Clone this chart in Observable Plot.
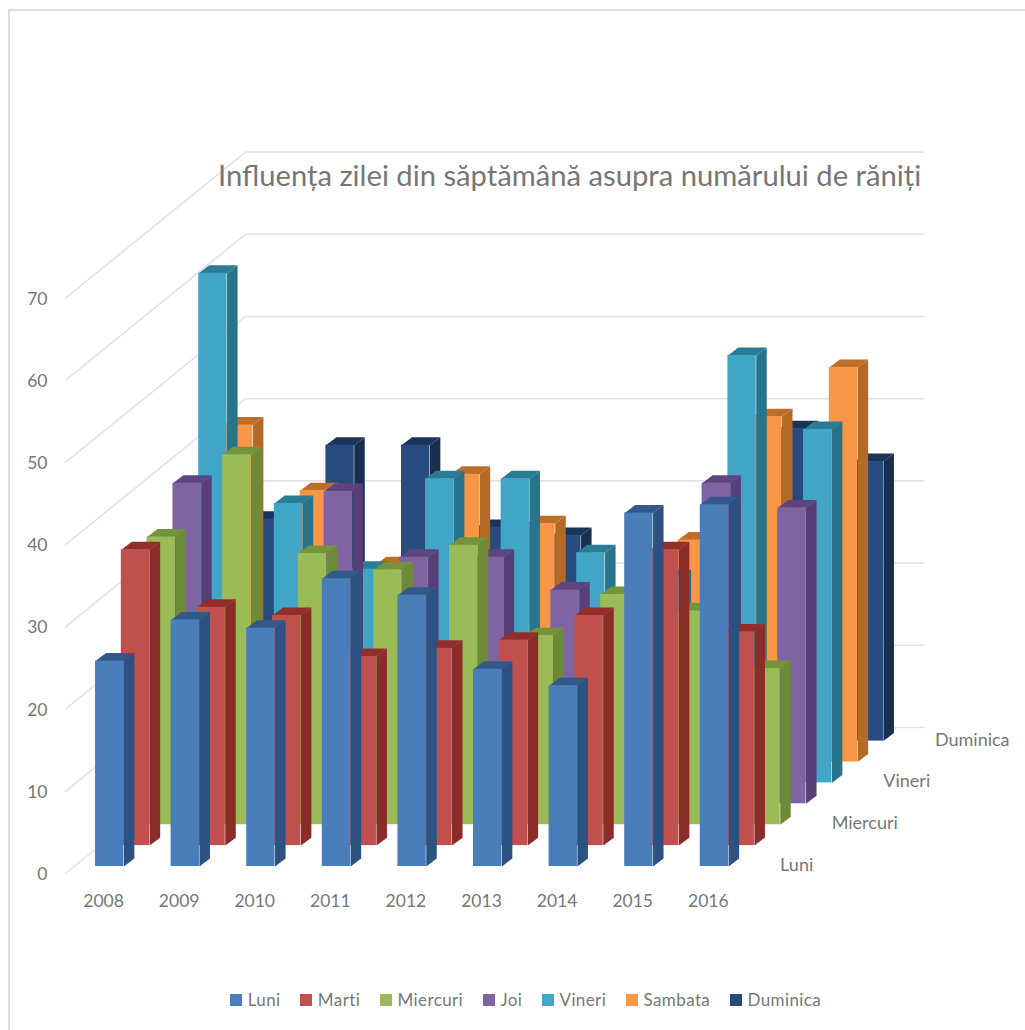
<!DOCTYPE html>
<html lang="ro">
<head>
<meta charset="utf-8">
<title>Influența zilei din săptămână asupra numărului de răniți</title>
<script src="https://cdn.jsdelivr.net/npm/d3@7"></script>
<script src="https://cdn.jsdelivr.net/npm/@observablehq/plot@0.6"></script>
<style>
  html, body { margin: 0; padding: 0; background: #fff; }
  #page { position: relative; width: 1025px; height: 1030px; overflow: hidden; font-family: Lato, "Open Sans", sans-serif; }
  #box { position: absolute; left: 8px; top: 9px; width: 1040px; height: 1040px; border: 2px solid #dedede; box-sizing: border-box; }
  #chart { position: absolute; left: 0; top: 0; }
  #chart svg { display: block; }
  h1 { position: absolute; left: 218px; top: 156px; margin: 0; font-weight: 400; font-size: 29.2px; line-height: 38px; color: #767676; white-space: nowrap; }
  #legend { position: absolute; left: 230px; top: 989px; display: flex; font-size: 17px; line-height: 22px; color: #777; letter-spacing: .4px; white-space: nowrap; }
  #legend span.item { display: flex; align-items: center; margin-right: 19.6px; }
  #legend i { display: block; width: 12px; height: 12px; margin-right: 5.7px; }
</style>
</head>
<body>
<div id="page">
  <div id="box"></div>
  <div id="chart"></div>
  <h1>Influența zilei din săptămână asupra numărului de răniți</h1>
  <div id="legend"></div>
</div>
<script>
// Injured people per weekday, one value per year.
const years = [2008, 2009, 2010, 2011, 2012, 2013, 2014, 2015, 2016];
const days = ["Luni", "Marti", "Miercuri", "Joi", "Vineri", "Sambata", "Duminica"];
const luni     = [25, 30, 29, 35, 33, 24, 22, 43, 44];
const marti    = [36, 29, 28, 23, 24, 25, 28, 36, 26];
const miercuri = [35, 45, 33, 31, 34, 23, 28, 26, 19];
const joi      = [39, 20, 38, 30, 30, 26, 18, 39, 36];
const vineri   = [62, 34, 26, 37, 37, 28, 25, 52, 43];
const sambata  = [41, 33, 24, 35, 29, 18, 27, 42, 48];
const duminica = [27, 36, 36, 26, 25, 20, 25, 38, 34];
const series = [luni, marti, miercuri, joi, vineri, sambata, duminica];
const depthTicks = ["Luni", "Miercuri", "Vineri", "Duminica"];
const valueTicks = [0, 10, 20, 30, 40, 50, 60, 70];

// Face colours per weekday: front, side, top.
const faceColors = [
  ["#4a7ebb", "#2c5282", "#32598a"],
  ["#c0504d", "#8a2c2a", "#922f2c"],
  ["#9bbb59", "#6d8a37", "#75933b"],
  ["#8064a2", "#583f78", "#5f4480"],
  ["#41a6c6", "#27748c", "#2a7c95"],
  ["#f79646", "#b46a27", "#bd6f29"],
  ["#264b7c", "#182f52", "#1a3559"]
];

// Oblique projection: each weekday row moves right and up in the chart's own units.
const rowX = 0.3413, rowY = 2.543;
const floorY = 0.85;
const barLeft = -0.106, barWidth = 0.375;
const sideX = 0.139, sideY = 0.97;
const px = (year, day) => year + day * rowX;
const py = (value, day) => value + floorY + day * rowY;

// Back rows first, left to right, so nearer bars cover farther ones.
const bars = [];
for (let d = days.length - 1; d >= 0; --d) {
  years.forEach((year, i) => bars.push({year, day: d, value: series[d][i]}));
}

const poly = (b, corners) => corners.map(([x, y]) => ({x, y, id: `${b.year}-${b.day}`}));

const barMarks = bars.flatMap((b) => {
  const x1 = px(b.year, b.day) + barLeft;
  const x2 = x1 + barWidth;
  const y1 = py(0, b.day);
  const y2 = py(b.value, b.day);
  const [front, side, top] = faceColors[b.day];
  return [
    Plot.line(poly(b, [[x2, y1], [x2, y2], [x2 + sideX, y2 + sideY], [x2 + sideX, y1 + sideY], [x2, y1]]),
      {x: "x", y: "y", fill: side, stroke: "none"}),
    Plot.line(poly(b, [[x1, y2], [x2, y2], [x2 + sideX, y2 + sideY], [x1 + sideX, y2 + sideY], [x1, y2]]),
      {x: "x", y: "y", fill: top, stroke: "none"}),
    Plot.rect([b], {x1: () => x1, x2: () => x2, y1: () => y1, y2: () => y2, fill: front})
  ];
});

// Back wall: one bent gridline per value tick, running from the front edge to the back and across.
const wallFrontX = 2007.497, wallBackX = 2009.878, wallEndX = 2018.85;
const wallDepth = 17.76;
const wallLines = valueTicks.flatMap((v) => [
  {x: wallFrontX, y: v, v},
  {x: wallBackX, y: v + wallDepth, v},
  {x: wallEndX, y: v + wallDepth, v}
]);

const depthLabels = depthTicks.map((name) => {
  const d = days.indexOf(name);
  return {name, x: 2016.95 + d * rowX, y: 1 + d * rowY};
});

const chart = Plot.plot({
  width: 1025,
  height: 1030 - 50,
  marginLeft: 52,
  marginRight: 0,
  marginTop: 0,
  marginBottom: 107,
  style: {background: "transparent", fontFamily: "Lato, 'Open Sans', sans-serif"},
  x: {domain: [2007.325, 2020.196], axis: null},
  y: {domain: [0, 106.2], axis: null},
  marks: [
    Plot.axisY({ticks: valueTicks, tickSize: 0, tickPadding: 5, dy: 1, label: null, fontSize: 17.5, color: "#777", anchor: "left"}),
    Plot.axisX({ticks: years, tickFormat: "d", tickSize: 0, tickPadding: 21, label: null, fontSize: 17.5, color: "#777", anchor: "bottom"}),
    Plot.line(wallLines, {x: "x", y: "y", z: "v", stroke: "#e3e3e3", strokeWidth: 1.6}),
    ...barMarks,
    Plot.text(depthLabels, {x: "x", y: "y", text: "name", textAnchor: "start", fontSize: 18, fill: "#777"})
  ]
});
document.getElementById("chart").append(chart);

// Weekday key below the chart.
const legend = d3.select("#legend").selectAll("span.item").data(days).join("span").attr("class", "item");
legend.append("i").style("background", (d, i) => faceColors[i][0]);
legend.append("span").text((d) => d);
</script>
</body>
</html>
